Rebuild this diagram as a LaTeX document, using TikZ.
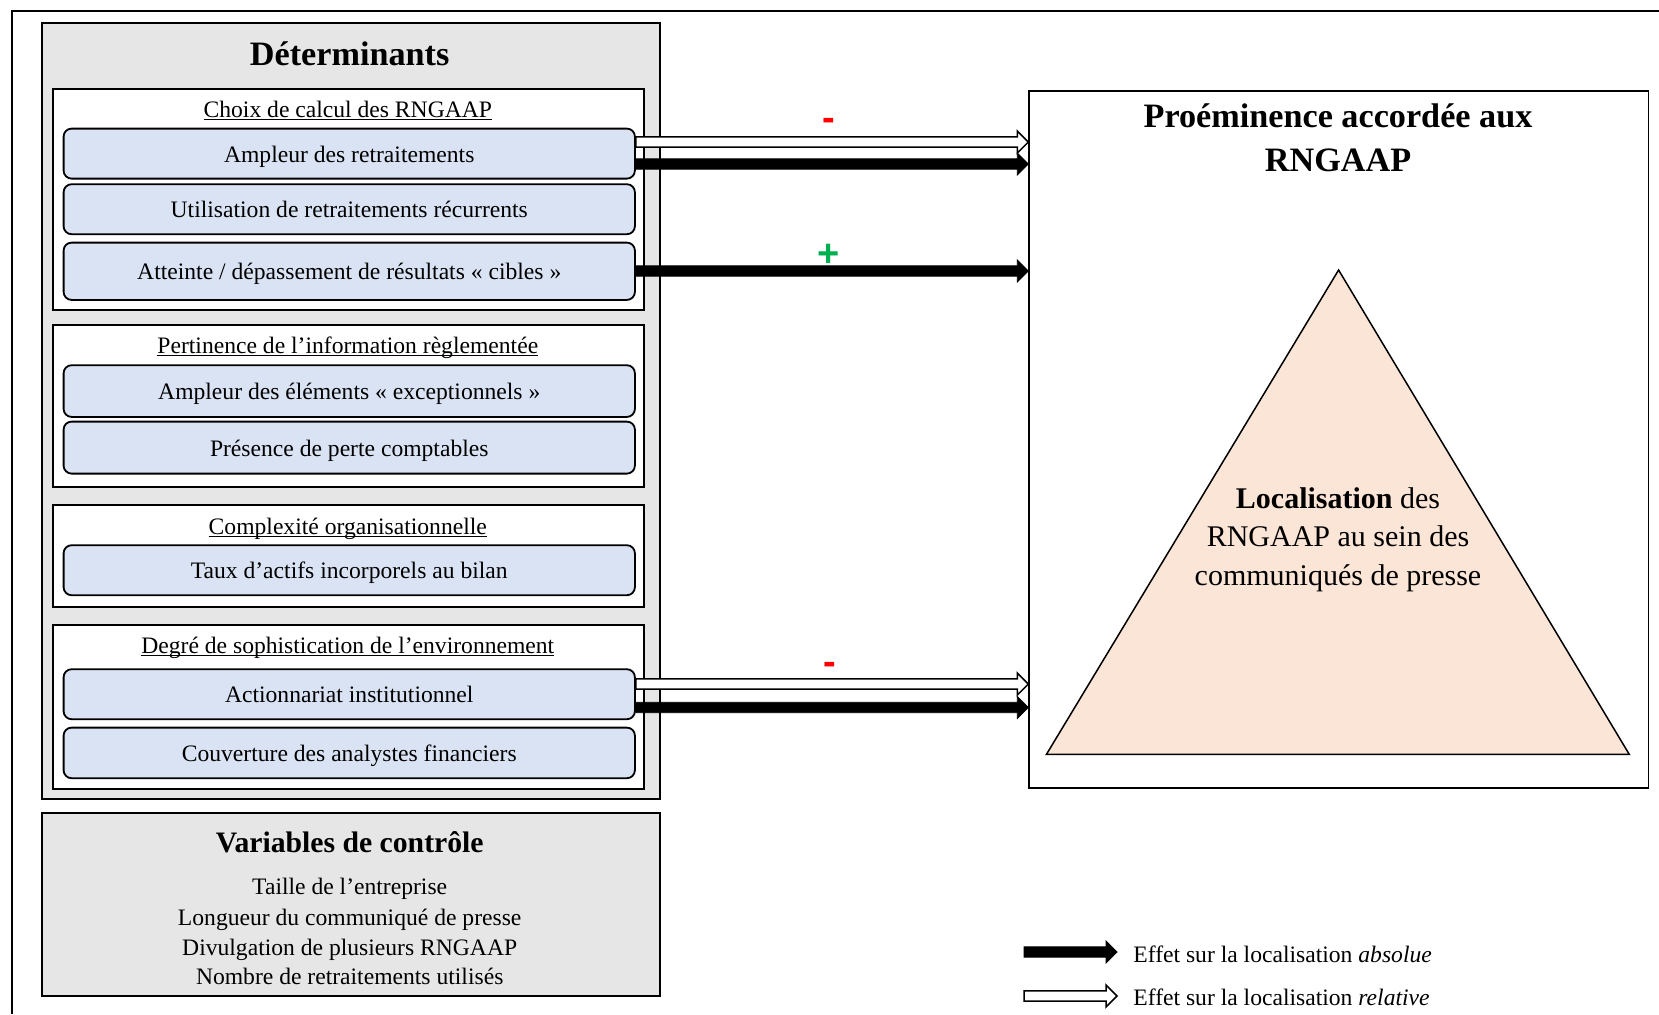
\documentclass[tikz,border=0pt]{standalone}
\usepackage{fontspec}
\setmainfont{Liberation Serif}
\newfontfamily\signfont{Liberation Sans}
\usetikzlibrary{calc}

\definecolor{panelgray}{HTML}{E6E6E6}
\definecolor{itemblue}{HTML}{DAE3F3}
\definecolor{peach}{HTML}{FBE5D6}
\definecolor{signred}{HTML}{FF0000}
\definecolor{signgreen}{HTML}{00B050}

\newcommand\fsbody{\fontsize{11.8}{15}\selectfont}
\newcommand\fstitle{\fontsize{17.1}{22}\selectfont\bfseries}
\newcommand\fsvar{\fontsize{14.85}{18}\selectfont\bfseries}
\newcommand\fstri{\fontsize{15}{19.3}\selectfont}
\newcommand\fssign{\signfont\bfseries\fontsize{19}{19}\selectfont}
\newcommand\secline[1]{\underline{\raisebox{0pt}[\height][0pt]{#1}}}

% thick effect arrow, drawn at the height of its start point
\newcommand\effarrow[3]{%
  \draw[#1] let \p1=(#2), \p2=(#3) in
    (\x1,\y1+2.6pt) -- (\x2-5.5pt,\y1+2.6pt) -- (\x2-5.5pt,\y1+5.5pt)
    -- (\x2,\y1) -- (\x2-5.5pt,\y1-5.5pt) -- (\x2-5.5pt,\y1-2.6pt)
    -- (\x1,\y1-2.6pt) -- cycle;}

\begin{document}
\begin{tikzpicture}[x=0.5pt,y=-0.5pt,
  panel/.style={draw=black, line width=0.9pt, fill=panelgray, anchor=north west,
    inner sep=0pt, minimum width=309pt},
  group/.style={draw=black, line width=0.9pt, fill=white, anchor=north west,
    inner sep=0pt, minimum width=295.5pt},
  item/.style={draw=black, line width=0.9pt, fill=itemblue, rounded corners=4pt,
    anchor=north west, inner sep=0pt, minimum width=285.65pt, font=\fsbody,
    text height=8.6pt, text depth=0pt},
  grouptitle/.style={anchor=base, inner sep=0pt, font=\fsbody},
  bodyline/.style={anchor=base, inner sep=0pt, font=\fsbody},
  heading/.style={anchor=base, inner sep=0pt, font=\fstitle},
  absarrow/.style={fill=black, draw=black, line width=0.4pt, line join=miter},
  relarrow/.style={fill=white, draw=black, line width=0.75pt, line join=miter},
  sign/.style={anchor=base, inner sep=0pt, font=\fssign},
]
\fill[white] (0,0) rectangle (1659,1014);
\useasboundingbox (0,0) rectangle (1659,1014);

% outer frame (top and left edges)
\draw[line width=1pt] (12.3,1014) -- (12.3,10.7) -- (1659,10.7);

% determinants panel
\node[panel, minimum height=388pt] (det) at (40.7,22.3) {};
\node[heading] (detT) at (349.7,65.3) {Déterminants};

\node[group, minimum height=110.65pt] (g1) at (52.3,87.7) {};
\node[grouptitle] (g1T) at (347.8,117) {\secline{Choix de calcul des RNGAAP}};
\node[item, minimum height=25pt] (b1) at (62.7,127.7) {Ampleur des retraitements};
\node[item, minimum height=25pt] (b2) at (62.7,183.3) {Utilisation de retraitements récurrents};
\node[item, minimum height=28.65pt] (b3) at (62.7,241.7) {Atteinte / dépassement de résultats « cibles »};

\node[group, minimum height=80.85pt] (g2) at (52.3,324) {};
\node[grouptitle] (g2T) at (347.8,353) {\secline{Pertinence de l’information règlementée}};
\node[item, minimum height=25.85pt] (b4) at (62.7,364.3) {Ampleur des éléments « exceptionnels »};
\node[item, minimum height=26pt] (b5) at (62.7,420.7) {Présence de perte comptables};

\node[group, minimum height=50.85pt] (g3) at (52.3,504.3) {};
\node[grouptitle] (g3T) at (347.8,534) {\secline{Complexité organisationnelle}};
\node[item, minimum height=25pt] (b6) at (62.7,544.3) {Taux d’actifs incorporels au bilan};

\node[group, minimum height=81.7pt] (g4) at (52.3,624.3) {};
\node[grouptitle] (g4T) at (347.8,653) {\secline{Degré de sophistication de l’environnement}};
\node[item, minimum height=25pt] (b7) at (62.7,668.3) {Actionnariat institutionnel};
\node[item, minimum height=25.3pt] (b8) at (62.7,726.7) {Couverture des analystes financiers};

% control variables panel
\node[panel, minimum height=91.35pt] (var) at (40.7,812.3) {};
\node[anchor=base, inner sep=0pt, font=\fsvar] (varT) at (349.7,852.8) {Variables de contrôle};
\node[bodyline] (v1) at (349.7,894.6) {Taille de l’entreprise};
\node[bodyline] (v2) at (349.7,925) {Longueur du communiqué de presse};
\node[bodyline] (v3) at (349.7,955) {Divulgation de plusieurs RNGAAP};
\node[bodyline] (v4) at (349.7,984.5) {Nombre de retraitements utilisés};

% outcome box
\node[draw=black, line width=0.75pt, fill=white, anchor=north west, inner sep=0pt,
  minimum width=309.6pt, minimum height=348.5pt] (prom) at (1028.3,90) {};
\node[font=\fstitle, align=center, inner sep=0pt] (promT) at (1338,138)
  {Proéminence accordée aux\\RNGAAP};
\coordinate (tA) at (1338.6,270);
\coordinate (tL) at (1046.4,754.4);
\coordinate (tR) at (1629.3,754.4);
\draw[fill=peach, line width=0.75pt, line join=miter] (tA) -- (tL) -- (tR) -- cycle;
\node[font=\fstri, align=center, inner sep=0pt] (loc) at (1338,539.5)
  {\textbf{Localisation} des\\RNGAAP au sein des\\communiqués de presse};

% effect arrows
\coordinate (yA1) at (0,142);
\coordinate (yA2) at (0,164);
\coordinate (yA3) at (0,271);
\coordinate (yA4) at (0,684);
\coordinate (yA5) at (0,707.5);
\effarrow{relarrow}{b1.east |- yA1}{prom.west |- yA1}
\effarrow{absarrow}{b1.east |- yA2}{prom.west |- yA2}
\effarrow{absarrow}{b3.east |- yA3}{prom.west |- yA3}
\effarrow{relarrow}{b7.east |- yA4}{prom.west |- yA4}
\effarrow{absarrow}{b7.east |- yA5}{prom.west |- yA5}

\node[sign, text=signred] (s1) at (829,130.6) {-};
\node[sign, text=signgreen] (s2) at (829,266.7) {+};
\node[sign, text=signred] (s3) at (830,674.6) {-};

% legend
\coordinate (l1s) at (1024,952);
\coordinate (l1e) at (1117,952);
\coordinate (l2s) at (1024,996);
\coordinate (l2e) at (1117,996);
\effarrow{absarrow}{l1s}{l1e}
\effarrow{relarrow}{l2s}{l2e}
\node[anchor=base west, inner sep=0pt, font=\fsbody] (leg1) at (1133,962.5)
  {Effet sur la localisation \textit{absolue}};
\node[anchor=base west, inner sep=0pt, font=\fsbody] (leg2) at (1133,1005.5)
  {Effet sur la localisation \textit{relative}};
\end{tikzpicture}
\end{document}
